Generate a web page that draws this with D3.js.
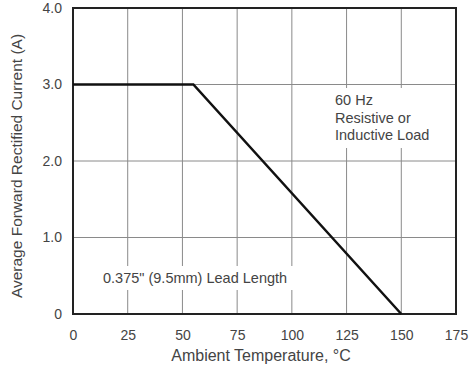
<!DOCTYPE html>
<html>
<head>
<meta charset="utf-8">
<script src="https://cdn.jsdelivr.net/npm/d3@7"></script>
<style>
  body { margin: 0; background: #fff; }
  svg { display: block; font-family: "Liberation Sans", Arial, sans-serif; }
</style>
</head>
<body>
<svg id="chart" width="470" height="370"></svg>
<script>
// derating curve
var temps = [0, 55, 150];
var current = [3.0, 3.0, 0];
var xTicks = [0, 25, 50, 75, 100, 125, 150, 175];
var yTicks = [0, 1, 2, 3, 4];
var yTickLabels = ['0', '1.0', '2.0', '3.0', '4.0'];

var svg = d3.select('#chart');
var pLeft = 73, pRight = 456, pTop = 8, pBottom = 314;

var x = d3.scaleLinear().domain([0, 175]).range([pLeft, pRight]);
var y = d3.scaleLinear().domain([0, 4]).range([pBottom, pTop]);

// grid
svg.append('g').selectAll('line').data(xTicks.slice(1, -1)).join('line')
  .attr('x1', d => x(d)).attr('x2', d => x(d))
  .attr('y1', pTop).attr('y2', pBottom)
  .attr('stroke', '#8a8a8a').attr('stroke-width', 1);
svg.append('g').selectAll('line').data(yTicks.slice(1, -1)).join('line')
  .attr('x1', pLeft).attr('x2', pRight)
  .attr('y1', d => y(d)).attr('y2', d => y(d))
  .attr('stroke', '#8a8a8a').attr('stroke-width', 1);

// white boxes behind the notes
svg.append('rect').attr('x', 330).attr('y', 88).attr('width', 112).attr('height', 60).attr('fill', '#fff');
svg.append('rect').attr('x', 99).attr('y', 266).attr('width', 197).attr('height', 24).attr('fill', '#fff');

// axes labels
var xAxis = d3.axisBottom(x).tickValues(xTicks).tickSize(0).tickPadding(16).tickFormat(d3.format('d'));
var yAxis = d3.axisLeft(y).tickValues(yTicks).tickSize(0).tickPadding(11).tickFormat((d, i) => yTickLabels[i]);

svg.append('g').attr('transform', `translate(0,${pBottom})`).call(xAxis)
  .call(g => g.select('.domain').remove())
  .selectAll('text').style('font-size', '14px').attr('fill', '#444');
svg.append('g').attr('transform', `translate(${pLeft},0)`).call(yAxis)
  .call(g => g.select('.domain').remove())
  .selectAll('text').style('font-size', '14px').attr('fill', '#444');

// frame
svg.append('rect').attr('x', pLeft).attr('y', pTop)
  .attr('width', pRight - pLeft).attr('height', pBottom - pTop)
  .attr('fill', 'none').attr('stroke', '#222').attr('stroke-width', 2);

// curve
var line = d3.line().x((d, i) => x(temps[i])).y(d => y(d));
svg.append('path').datum(current)
  .attr('d', line).attr('fill', 'none')
  .attr('stroke', '#111').attr('stroke-width', 2.5);

// notes
var note = svg.append('text').attr('fill', '#444').style('font-size', '14.5px');
['60 Hz', 'Resistive or', 'Inductive Load'].forEach((t, i) => {
  note.append('tspan').attr('x', 335).attr('y', 105 + i * 17.5).text(t);
});
svg.append('text').attr('x', 103).attr('y', 283)
  .attr('fill', '#444').style('font-size', '14.5px')
  .text('0.375" (9.5mm) Lead Length');

// axis titles
svg.append('text').attr('x', 261).attr('y', 361)
  .attr('text-anchor', 'middle').attr('fill', '#444').style('font-size', '16px')
  .text('Ambient Temperature, °C');
svg.append('text')
  .attr('transform', 'translate(22, 166) rotate(-90)')
  .attr('text-anchor', 'middle').attr('fill', '#444').style('font-size', '15.5px')
  .text('Average Forward Rectified Current (A)');
</script>
</body>
</html>
